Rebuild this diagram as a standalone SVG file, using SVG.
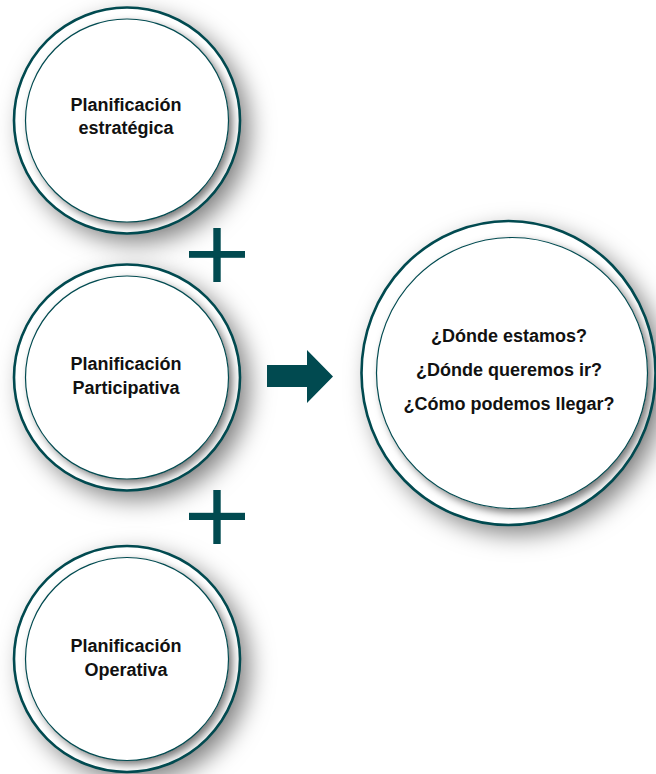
<svg xmlns="http://www.w3.org/2000/svg" width="656" height="774" viewBox="0 0 656 774">
<style>
.bg{fill:#ffffff}
.outer{fill:#ffffff;filter:url(#sh1)}
.innerFill{fill:#ffffff;filter:url(#sh2)}
.ring{fill:none;stroke:#014a50;stroke-width:2.6}
.ringIn{fill:none;stroke:#014a50;stroke-width:1.2}
.lbl{font-family:"Liberation Sans",Arial,sans-serif;font-weight:bold;font-size:18px;fill:#111111;text-anchor:middle}
.teal{fill:#014a50}
</style>
<defs>
<filter id="sh1" x="-40%" y="-40%" width="190%" height="190%">
<feDropShadow dx="9" dy="9" stdDeviation="12" flood-color="#000" flood-opacity="0.5"/>
</filter>
<filter id="sh2" x="-30%" y="-30%" width="170%" height="170%">
<feDropShadow dx="4" dy="4" stdDeviation="4" flood-color="#000" flood-opacity="0.55"/>
</filter>
</defs>
<rect class="bg" x="0" y="0" width="656" height="774"/>

<g id="node-estrategica">
<circle class="outer" cx="127" cy="120.5" r="113"/>
<circle class="innerFill" cx="127" cy="120.5" r="101.5"/>
<circle class="ring" cx="127" cy="120.5" r="113"/>
<circle class="ringIn" cx="127" cy="120.5" r="101.5"/>
<text class="lbl" x="126" y="110.5">Planificación</text>
<text class="lbl" x="126" y="134">estratégica</text>
</g>

<g id="node-participativa">
<circle class="outer" cx="127" cy="377.5" r="113"/>
<circle class="innerFill" cx="127" cy="377.5" r="101.5"/>
<circle class="ring" cx="127" cy="377.5" r="113"/>
<circle class="ringIn" cx="127" cy="377.5" r="101.5"/>
<text class="lbl" x="126" y="370">Planificación</text>
<text class="lbl" x="126" y="394">Participativa</text>
</g>

<g id="node-operativa">
<circle class="outer" cx="127" cy="659" r="113"/>
<circle class="innerFill" cx="127" cy="659" r="101.5"/>
<circle class="ring" cx="127" cy="659" r="113"/>
<circle class="ringIn" cx="127" cy="659" r="101.5"/>
<text class="lbl" x="126" y="652">Planificación</text>
<text class="lbl" x="126" y="676">Operativa</text>
</g>

<g id="node-preguntas">
<ellipse class="outer" cx="508.5" cy="373" rx="147" ry="152"/>
<circle class="innerFill" cx="512" cy="373" r="135.5"/>
<ellipse class="ring" cx="508.5" cy="373" rx="147" ry="152"/>
<circle class="ringIn" cx="512" cy="373" r="135.5"/>
<text class="lbl" x="509" y="341.5">¿Dónde estamos?</text>
<text class="lbl" x="509" y="376">¿Dónde queremos ir?</text>
<text class="lbl" x="509" y="410">¿Cómo podemos llegar?</text>
</g>

<g id="connectors">
<g id="plus-1" class="teal">
<rect x="213.3" y="228" width="7.4" height="54"/>
<rect x="189" y="251" width="56" height="6.8"/>
</g>
<g id="plus-2" class="teal">
<rect x="213.3" y="490" width="7.4" height="54"/>
<rect x="189" y="512.8" width="56" height="7.2"/>
</g>
<polygon id="arrow" class="teal" points="267,365 307,365 307,350 333,376.5 307,403 307,387 267,387"/>
</g>
</svg>
